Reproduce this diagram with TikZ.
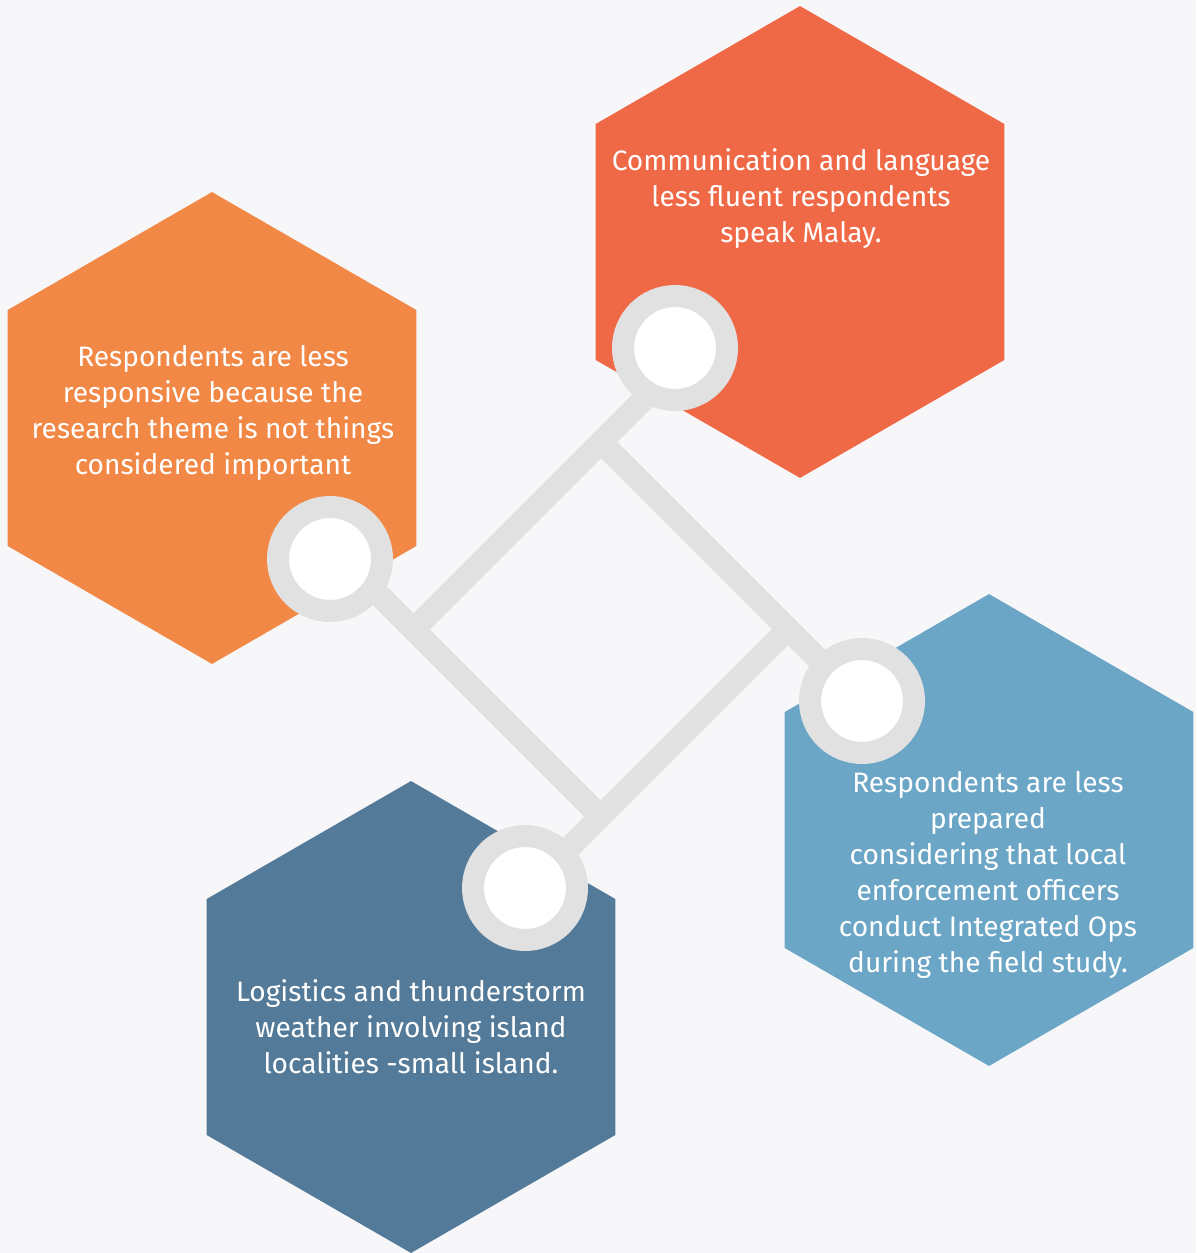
\documentclass[tikz,border=0pt]{standalone}
\usepackage{fontspec}
\setmainfont{Fira Sans}
\usepackage{xcolor}
\usetikzlibrary{shapes.geometric}

\definecolor{paper}{HTML}{F7F7F9}
\definecolor{hexorange}{HTML}{F18845}
\definecolor{hexred}{HTML}{F06946}
\definecolor{hexsky}{HTML}{6CA6C6}
\definecolor{hexsteel}{HTML}{537A98}
\definecolor{ringgray}{HTML}{E1E1E1}

\begin{document}
\begin{tikzpicture}[x=0.02cm, y=-0.02cm,
    hexa/.style={regular polygon, regular polygon sides=6, shape border rotate=30,
        minimum size=9.44cm, inner sep=0pt, outer sep=0pt},
    ring/.style={circle, draw=ringgray, fill=white, line width=0.44cm,
        minimum size=2.08cm, inner sep=0pt, outer sep=0pt},
    bar/.style={draw=ringgray, line width=0.46cm},
    txt/.style={text=white, align=center, font=\fontsize{16}{20.5}\selectfont}]
    % background
    \fill[paper] (0,0) rectangle (1196,1253);

    % hexagons
    \node[hexa, fill=hexorange] (hexresp) at (212,428) {};
    \node[hexa, fill=hexred] (hexcomm) at (800,242) {};
    \node[hexa, fill=hexsky] (hexprep) at (989,830) {};
    \node[hexa, fill=hexsteel] (hexlogi) at (411,1017) {};

    % corners of the frame and ends of the bars
    \coordinate (vleft) at (413.5,629.5);
    \coordinate (vtop) at (601,442);
    \coordinate (vright) at (788,629);
    \coordinate (vbottom) at (600.5,816.5);
    \coordinate (endcomm) at (685,358);
    \coordinate (endprep) at (862,703);
    \coordinate (endlogi) at (527,890);
    \coordinate (endresp) at (336.5,552.5);

    \draw[bar] (vleft) -- (endcomm);
    \draw[bar] (vtop) -- (endprep);
    \draw[bar] (vright) -- (endlogi);
    \draw[bar] (endresp) -- (vbottom);

    % rings
    \node[ring] (dotresp) at (330,559) {};
    \node[ring] (dotcomm) at (675,348) {};
    \node[ring] (dotprep) at (862,701) {};
    \node[ring] (dotlogi) at (525,888) {};

    % labels
    \node[txt] (txtresp) at (213,413) {Respondents are less\\responsive because the\\research theme is not things\\considered important};
    \node[txt] (txtcomm) at (801,199) {Communication and language\\less fluent respondents\\speak Malay.};
    \node[txt] (txtprep) at (988,875) {Respondents are less\\prepared\\considering that local\\enforcement officers\\conduct Integrated Ops\\during the field study.};
    \node[txt] (txtlogi) at (411,1027) {Logistics and thunderstorm\\weather involving island\\localities -small island.};
\end{tikzpicture}
\end{document}
